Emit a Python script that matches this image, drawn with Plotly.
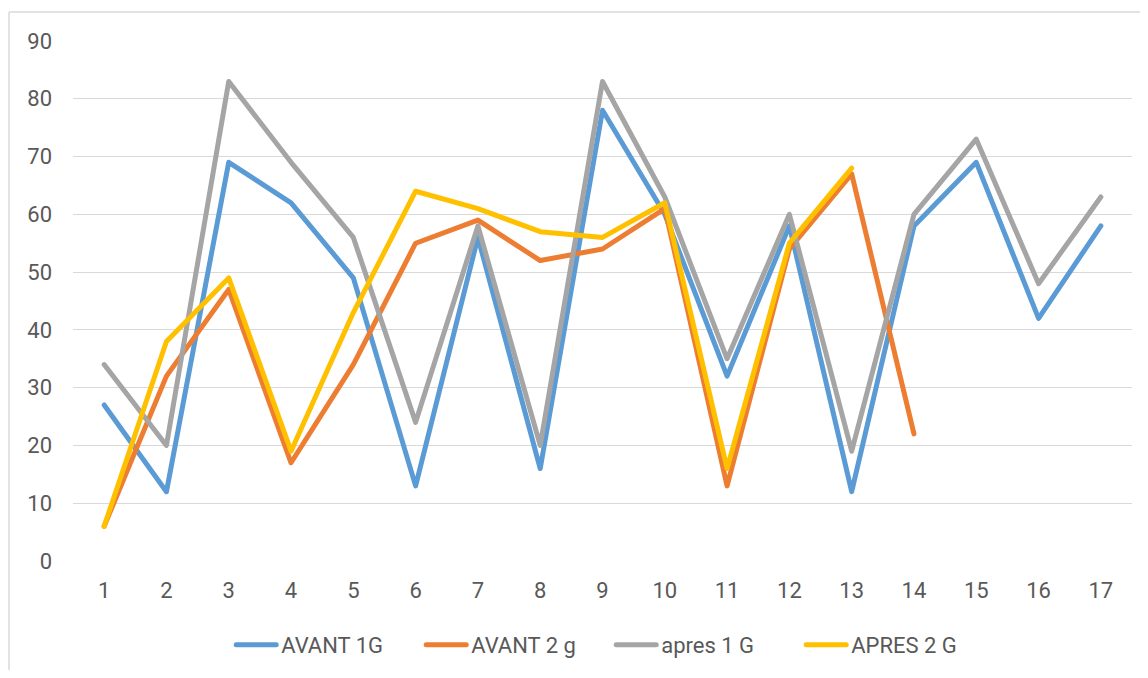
import plotly.graph_objects as go

categories = [str(i) for i in range(1, 18)]
avant_1g = [27, 12, 69, 62, 49, 13, 56, 16, 78, 60, 32, 58, 12, 58, 69, 42, 58]
avant_2g = [6, 32, 47, 17, 34, 55, 59, 52, 54, 61, 13, 54, 67, 22]
apres_1g = [34, 20, 83, 69, 56, 24, 58, 20, 83, 63, 35, 60, 19, 60, 73, 48, 63]
apres_2g = [6, 38, 49, 19, 43, 64, 61, 57, 56, 62, 16, 55, 68]
y_ticks = list(range(0, 100, 10))

series = [
    ("AVANT 1G", avant_1g, "#5B9BD5"),
    ("AVANT 2 g", avant_2g, "#ED7D31"),
    ("apres 1 G", apres_1g, "#A5A5A5"),
    ("APRES 2 G", apres_2g, "#FFC000"),
]

fig = go.Figure()
for name, vals, color in series:
    fig.add_trace(go.Scatter(
        x=categories[:len(vals)], y=vals, name=name, mode="lines",
        line=dict(color=color, width=5),
    ))

font_family = "Roboto, Liberation Sans, sans-serif"
fig.update_layout(
    width=1132, height=662,
    margin=dict(l=65, r=8, t=33, b=109, autoexpand=False),
    paper_bgcolor="white", plot_bgcolor="white",
    font=dict(family=font_family, size=22, color="#595959"),
    showlegend=True,
    legend=dict(orientation="h", x=0.1494, xanchor="left",
                yref="container", y=0.0378, yanchor="middle",
                font=dict(family=font_family, size=22, color="#595959"),
                itemwidth=40, tracegroupgap=0, entrywidth=135, entrywidthmode="pixels"),
    xaxis=dict(type="category", categoryorder="array", categoryarray=categories,
               range=[-0.5, 16.5], showgrid=False, zeroline=False, showline=False,
               ticks="", ticklabelstandoff=14, tickfont=dict(size=22, color="#595959")),
    yaxis=dict(range=[0, 90], tickvals=y_ticks, showgrid=True, gridcolor="#D9D9D9",
               gridwidth=1.3, zeroline=False, showline=False, ticks="",
               ticklabelstandoff=20, tickfont=dict(size=22, color="#595959")),
    shapes=[
        dict(type="line", xref="paper", yref="paper", x0=-0.0604, x1=-0.0604,
             y0=-0.3, y1=1.0558, line=dict(color="#D9D9D9", width=1.5)),
        dict(type="line", xref="paper", yref="paper", x0=-0.0604, x1=1.1,
             y0=1.0558, y1=1.0558, line=dict(color="#D9D9D9", width=1.5)),
    ],
)

post = ("document.querySelectorAll('path.js-line').forEach(function(p){"
        "p.style.strokeLinejoin='round';p.style.strokeLinecap='round';});")
fig.write_html("out.html", post_script=post)
